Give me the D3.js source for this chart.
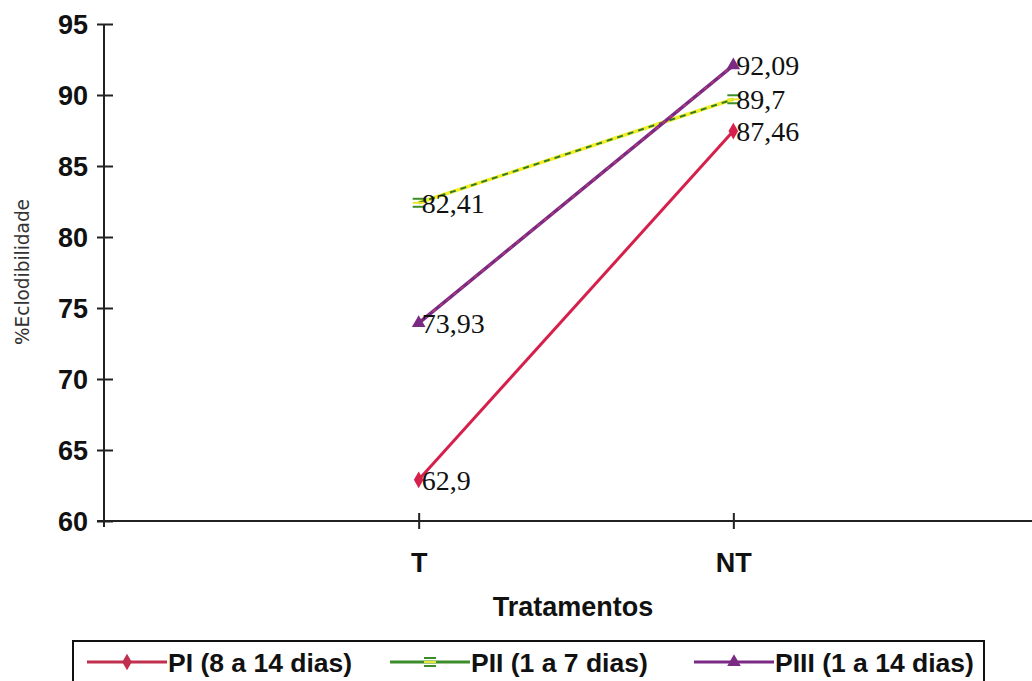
<!DOCTYPE html>
<html>
<head>
<meta charset="utf-8">
<script src="https://cdn.jsdelivr.net/npm/d3@7"></script>
<style>
  html, body { margin: 0; padding: 0; background: #fff; }
  svg { display: block; }
</style>
</head>
<body>
<svg id="chart" width="1032" height="681"></svg>
<script>
// Hatchability (%) by treatment and storage period
const categories = ["T", "NT"];
const seriesNames = ["PI (8 a 14 dias)", "PII (1 a 7 dias)", "PIII (1 a 14 dias)"];
const valuesPI = [62.9, 87.46];
const valuesPII = [82.41, 89.7];
const valuesPIII = [73.93, 92.09];
const labelsPI = ["62,9", "87,46"];
const labelsPII = ["82,41", "89,7"];
const labelsPIII = ["73,93", "92,09"];
const yTicks = [60, 65, 70, 75, 80, 85, 90, 95];

const series = [
  { name: seriesNames[0], values: valuesPI, labels: labelsPI, color: "#d6204c", legendColor: "#c0304f", marker: "diamond" },
  { name: seriesNames[1], values: valuesPII, labels: labelsPII, color: "#3c8c2a", legendColor: "#3c8c2a", marker: "bars" },
  { name: seriesNames[2], values: valuesPIII, labels: labelsPIII, color: "#7b2a84", legendColor: "#7b2a84", marker: "triangle" }
];

const svg = d3.select("#chart");
const sansBold = "'Liberation Sans', Arial, sans-serif";

const y = d3.scaleLinear().domain([60, 95]).range([521, 24]);
const x = d3.scalePoint().domain(categories).range([104, 1048]).padding(1);
const axisX = 104;

// Y axis: line with crossing ticks
const yAxis = d3.axisLeft(y).tickValues(yTicks).tickSize(0).tickPadding(0)
  .tickFormat(d3.format("d"));
const gy = svg.append("g").attr("transform", `translate(${axisX},0)`).call(yAxis);
gy.select(".domain").remove();
gy.selectAll(".tick text")
  .attr("x", -16)
  .attr("dy", "0.36em")
  .style("font-family", sansBold)
  .style("font-weight", "bold")
  .style("font-size", "27px")
  .attr("fill", "#111");
gy.selectAll(".tick").append("line")
  .attr("x1", -7).attr("x2", 9)
  .attr("stroke", "#222").attr("stroke-width", 2);
svg.append("line")
  .attr("x1", axisX).attr("x2", axisX)
  .attr("y1", y(95)).attr("y2", y(60) + 6)
  .attr("stroke", "#222").attr("stroke-width", 2);

// X axis
const xAxis = d3.axisBottom(x).tickSize(0).tickPadding(0);
const gx = svg.append("g").attr("transform", `translate(0,${y(60)})`).call(xAxis);
gx.select(".domain").remove();
gx.selectAll(".tick text")
  .attr("y", 51)
  .attr("dy", 0)
  .style("font-family", sansBold)
  .style("font-weight", "bold")
  .style("font-size", "27px")
  .attr("fill", "#111");
gx.selectAll(".tick").append("line")
  .attr("y1", -8).attr("y2", 8)
  .attr("stroke", "#222").attr("stroke-width", 2);
svg.append("line")
  .attr("x1", axisX - 7).attr("x2", 1032)
  .attr("y1", y(60)).attr("y2", y(60))
  .attr("stroke", "#222").attr("stroke-width", 2);

// Axis titles
svg.append("text")
  .attr("x", 573)
  .attr("y", 616)
  .attr("text-anchor", "middle")
  .style("font-family", sansBold)
  .style("font-weight", "bold")
  .style("font-size", "27px")
  .attr("fill", "#111")
  .text("Tratamentos");

svg.append("text")
  .attr("transform", "translate(29,272) rotate(-90)")
  .attr("text-anchor", "middle")
  .attr("textLength", 146)
  .attr("lengthAdjust", "spacingAndGlyphs")
  .style("font-family", "'DejaVu Sans', sans-serif")
  .style("font-weight", "normal")
  .style("font-size", "19px")
  .attr("fill", "#333")
  .text("%Eclodibilidade");

// Marker shapes
function drawMarker(g, type, cx, cy, color) {
  if (type === "diamond") {
    g.append("path")
      .attr("d", d3.symbol(d3.symbolDiamond, 80)())
      .attr("transform", `translate(${cx},${cy})`)
      .attr("fill", color);
  } else if (type === "triangle") {
    g.append("path")
      .attr("d", d3.symbol(d3.symbolTriangle, 80)())
      .attr("transform", `translate(${cx},${cy})`)
      .attr("fill", color);
  } else {
    [-4, 0, 4].forEach(o => {
      g.append("line")
        .attr("x1", cx - 6).attr("x2", cx + 6)
        .attr("y1", cy + o).attr("y2", cy + o)
        .attr("stroke", o === 0 ? "#e8e830" : color)
        .attr("stroke-width", 2);
    });
  }
}

const line = d3.line().x((d, i) => x(categories[i])).y(d => y(d));
const plot = svg.append("g");

series.forEach(s => {
  const g = plot.append("g");
  if (s.marker === "bars") {
    g.append("path").datum(s.values).attr("d", line)
      .attr("fill", "none").attr("stroke", "#f2ee2a").attr("stroke-width", 3.5);
    g.append("path").datum(s.values).attr("d", line)
      .attr("fill", "none").attr("stroke", "#2f7a2a").attr("stroke-width", 2)
      .attr("stroke-dasharray", "6,5");
  } else if (s.marker === "triangle") {
    g.append("path").datum(s.values).attr("d", line)
      .attr("fill", "none").attr("stroke", s.color).attr("stroke-width", 3.5);
    g.append("path").datum(s.values).attr("d", line)
      .attr("fill", "none").attr("stroke", "#c23a6e").attr("stroke-width", 1.2)
      .attr("stroke-dasharray", "4,5");
  } else {
    g.append("path").datum(s.values).attr("d", line)
      .attr("fill", "none").attr("stroke", s.color).attr("stroke-width", 3);
  }
  s.values.forEach((v, i) => {
    drawMarker(g, s.marker, x(categories[i]), y(v), s.color);
  });
});

// Value labels
series.forEach(s => {
  s.values.forEach((v, i) => {
    svg.append("text")
      .attr("x", x(categories[i]) + 3)
      .attr("y", y(v))
      .attr("dy", "0.35em")
      .style("font-family", "'Liberation Serif', 'Times New Roman', serif")
      .style("font-size", "28px")
      .attr("fill", "#111")
      .text(s.labels[i]);
  });
});

// Legend
const legend = svg.append("g");
legend.append("rect")
  .attr("x", 73).attr("y", 641)
  .attr("width", 911).attr("height", 70)
  .attr("fill", "#fff").attr("stroke", "#111").attr("stroke-width", 2);

const legendX = [87, 390, 694];
series.forEach((s, i) => {
  const lx = legendX[i];
  const ly = 662;
  const lg = legend.append("g");
  lg.append("line")
    .attr("x1", lx).attr("x2", lx + 80)
    .attr("y1", ly).attr("y2", ly)
    .attr("stroke", s.legendColor).attr("stroke-width", 3);
  drawMarker(lg, s.marker, lx + 40, ly, s.legendColor);
  lg.append("text")
    .attr("x", lx + 81)
    .attr("y", ly)
    .attr("dy", "0.36em")
    .style("font-family", sansBold)
    .style("font-weight", "bold")
    .style("font-size", "26.5px")
    .attr("fill", "#111")
    .text(s.name);
});
</script>
</body>
</html>
